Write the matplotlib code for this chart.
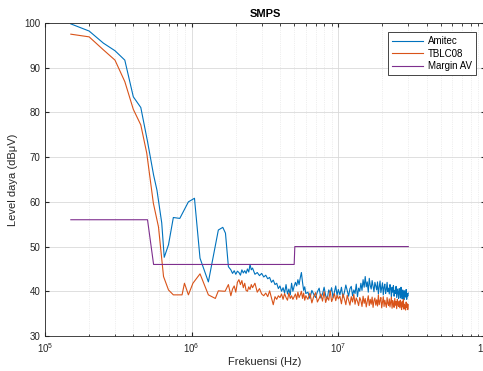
import matplotlib
matplotlib.use('Agg')
import matplotlib.pyplot as plt
import numpy as np

BLUE = '#0072BD'; ORANGE = '#D95319'; PURPLE = '#7E2F8E'; INK = '#262626'
plt.rcParams['font.family'] = ['Liberation Sans', 'DejaVu Sans']
plt.rcParams['mathtext.fontset'] = 'custom'
plt.rcParams['mathtext.rm'] = 'Liberation Sans'

# ---- data (frequency in Hz / MHz, level in dBuV) ----
f_ami_lo = [150e3, 200e3, 250e3, 300e3, 350e3, 400e3, 450e3, 500e3, 550e3, 580e3, 625e3, 650e3,
            695e3, 750e3, 830e3, 950e3, 1.045e6, 1.14e6, 1.30e6, 1.41e6, 1.52e6, 1.63e6, 1.70e6, 1.78e6]
ami_lo = [99.8, 98.2, 95.5, 93.8, 91.7, 83.5, 81.1, 73.5, 66.0, 62.6, 55.3, 47.6,
          50.4, 56.5, 56.3, 60.0, 60.8, 47.4, 42.1, 48.1, 53.7, 54.3, 53.0, 45.5]

f_tb_lo = [150e3, 200e3, 250e3, 300e3, 350e3, 400e3, 450e3, 494e3, 548e3, 594e3, 643e3, 695e3,
           750e3, 860e3, 893e3, 950e3, 1.02e6, 1.14e6, 1.30e6, 1.45e6, 1.52e6, 1.69e6, 1.78e6]
tb_lo = [97.5, 96.9, 94.0, 91.7, 86.9, 80.7, 77.2, 70.9, 59.7, 54.4, 43.3, 40.3,
         39.2, 39.2, 41.8, 39.2, 41.8, 43.9, 39.2, 38.4, 40.1, 40.0, 41.5]

# sweep above 1.8 MHz (MHz)
f_hi_mhz = [1.85, 1.9, 1.95, 2.0, 2.05, 2.1, 2.15, 2.2, 2.25, 2.3, 2.35, 2.4, 2.45, 2.5, 2.55, 2.6,
            2.7, 2.8, 2.9, 3.0, 3.1, 3.2, 3.3, 3.4, 3.5, 3.6, 3.7, 3.8, 3.9, 4.0, 4.1, 4.2, 4.3, 4.4,
            4.5, 4.6, 4.7, 4.8, 4.9, 5.0,
            5.1, 5.2, 5.3, 5.4, 5.5, 5.6, 5.7, 5.8, 5.9, 6.0,
            6.2, 6.4, 6.6, 6.8, 7.0, 7.2, 7.4, 7.6, 7.8, 8.0, 8.2, 8.4, 8.6, 8.8, 9.0, 9.2, 9.4, 9.6, 9.8, 10.0,
            10.25, 10.5, 10.75, 11.0, 11.25, 11.5, 11.75, 12.0, 12.25, 12.5, 12.75, 13.0, 13.25, 13.5, 13.75, 14.0,
            14.25, 14.5, 14.75, 15.0, 15.25, 15.5, 15.75, 16.0, 16.25, 16.5, 16.75, 17.0, 17.25, 17.5, 17.75, 18.0,
            18.25, 18.5, 18.75, 19.0, 19.25, 19.5, 19.75, 20.0, 20.25, 20.5, 20.75, 21.0, 21.25, 21.5, 21.75, 22.0,
            22.25, 22.5, 22.75, 23.0, 23.25, 23.5, 23.75, 24.0, 24.25, 24.5, 24.75, 25.0, 25.25, 25.5, 25.75, 26.0,
            26.25, 26.5, 26.75, 27.0, 27.25, 27.5, 27.75, 28.0, 28.25, 28.5, 28.75, 29.0, 29.25, 29.5, 29.75, 30.0]

ami_hi = [44.8, 44.0, 44.6, 43.8, 44.5, 44.2, 43.6, 44.8, 44.1, 44.6, 44.0, 45.0, 44.3, 46.0, 44.8, 45.2,
          43.8, 44.2, 43.5, 44.0, 43.2, 43.6, 42.8, 43.1, 42.0, 42.5, 41.5, 41.8, 40.6, 41.2, 40.0, 40.8,
          39.6, 41.5, 39.4, 40.5, 39.2, 41.8, 40.0, 41.2,
          42.0, 41.2, 42.6, 41.5, 43.0, 44.2, 42.0, 40.2, 41.0, 39.5,
          39.8, 38.4, 40.2, 39.3, 38.6, 39.9, 40.7, 38.5, 39.4, 40.9, 39.0, 38.3, 40.3, 39.6, 40.8, 38.6,
          39.8, 41.2, 39.1, 40.4,
          39.2, 40.9, 38.6, 39.8, 41.4, 40.1, 38.9, 40.6, 41.1, 39.0, 40.3, 39.5, 41.6, 38.8, 40.7, 40.0,
          41.8, 40.2, 42.6, 40.9, 43.3, 41.0, 42.1, 39.8, 42.9, 41.3, 40.5, 42.4, 41.1, 39.9, 42.0, 41.2,
          40.3, 42.1, 39.4, 41.0, 42.3, 39.7, 40.8, 41.9, 39.2, 40.9, 41.6, 39.5, 40.4, 42.0, 39.9, 40.7,
          39.4, 41.5, 40.6, 38.7, 40.9, 39.8, 41.3, 38.9, 40.2, 39.5, 41.1, 38.6, 40.5, 39.9, 38.4, 40.6,
          39.7, 38.5, 40.9, 39.2, 38.3, 40.3, 39.6, 38.1, 40.1, 39.0, 38.7, 40.4, 38.2, 39.5, 38.9, 39.6]

tb_hi = [39.0, 40.5, 41.2, 39.8, 42.0, 42.6, 41.5, 42.4, 40.8, 41.8, 40.2, 40.0, 41.0, 40.4, 41.5, 40.8,
         41.8, 39.8, 40.6, 39.4, 39.0, 39.6, 38.8, 40.1, 38.5, 37.0, 38.8, 38.2, 39.0, 38.6, 39.4, 38.2,
         39.5, 38.6, 38.0, 39.6, 38.4, 39.0, 38.2, 38.8,
         39.4, 38.2, 39.8, 38.6, 39.2, 40.0, 38.4, 39.6, 38.0, 39.0,
         38.2, 39.6, 37.4, 38.9, 39.7, 37.6, 38.4, 39.4, 37.8, 39.9, 37.5, 38.8, 38.0, 40.1, 37.7, 38.5,
         39.5, 37.9, 39.1, 38.3,
         38.9, 37.2, 39.4, 38.3, 37.0, 39.1, 38.0, 36.9, 38.8, 37.6, 39.3, 37.1, 38.5, 37.8, 36.8, 38.6,
         37.9, 36.6, 38.9, 37.3, 38.4, 36.5, 37.8, 39.0, 36.8, 38.2, 37.1, 38.7, 36.4, 37.9, 38.5, 36.9,
         38.1, 36.7, 39.2, 37.0, 37.9, 38.6, 36.3, 37.5, 38.8, 36.6, 38.0, 37.2, 36.4, 38.6, 37.3, 36.8,
         38.3, 36.5, 37.6, 38.7, 36.2, 37.9, 37.0, 36.4, 38.4, 36.9, 37.7, 36.1, 38.2, 37.0, 36.6, 37.8,
         36.3, 38.0, 36.8, 35.9, 37.7, 36.5, 38.2, 36.0, 37.1, 36.6, 35.8, 37.6, 36.4, 37.2, 35.9, 37.0]

f_margin = [150e3, 500e3, 550e3, 5e6, 5.05e6, 30e6]
margin_av = [56, 56, 46, 46, 50, 50]

f_hi = np.array(f_hi_mhz) * 1e6
f_ami = np.concatenate([f_ami_lo, f_hi]); l_ami = np.concatenate([ami_lo, ami_hi])
f_tb = np.concatenate([f_tb_lo, f_hi]); l_tb = np.concatenate([tb_lo, tb_hi])

fig = plt.figure(figsize=(4.83, 3.71), dpi=100)
ax = fig.add_axes([45/483, 35/371, 440/483, 313/371])

ax.plot(f_ami, l_ami, color=BLUE, lw=0.8, label='Amitec')
ax.plot(f_tb, l_tb, color=ORANGE, lw=0.8, label='TBLC08')
ax.plot(f_margin, margin_av, color=PURPLE, lw=0.8, label='Margin AV')

ax.set_xscale('log')
ax.set_xlim(1e5, 1e8)
ax.set_ylim(30, 100)
ax.set_yticks(range(30, 101, 10))
ax.grid(True, which='major', color='#d9d9d9', lw=0.6)
ax.grid(True, which='minor', axis='x', color='#e0e0e0', lw=0.5, ls=':')
ax.tick_params(which='both', direction='in', top=True, right=True, colors=INK, labelsize=7)
ax.tick_params(which='major', length=3)
ax.tick_params(which='minor', length=1.8)
for s in ax.spines.values():
    s.set_color(INK); s.set_linewidth(0.6)

ax.set_title('SMPS', fontsize=8, fontweight='bold', color='black', pad=4)
ax.set_xlabel('Frekuensi (Hz)', fontsize=8, color=INK, labelpad=2)
ax.set_ylabel('Level daya (dB\u03bcV)', fontsize=8, color=INK, labelpad=4)

leg = ax.legend(loc='upper right', fontsize=7, handlelength=3.2, borderaxespad=0.9,
                fancybox=False, framealpha=1, edgecolor=INK, borderpad=0.45, labelspacing=0.25,
                handletextpad=0.5)
leg.get_frame().set_linewidth(0.6)

plt.savefig('out.png', dpi=100)
plt.close()
